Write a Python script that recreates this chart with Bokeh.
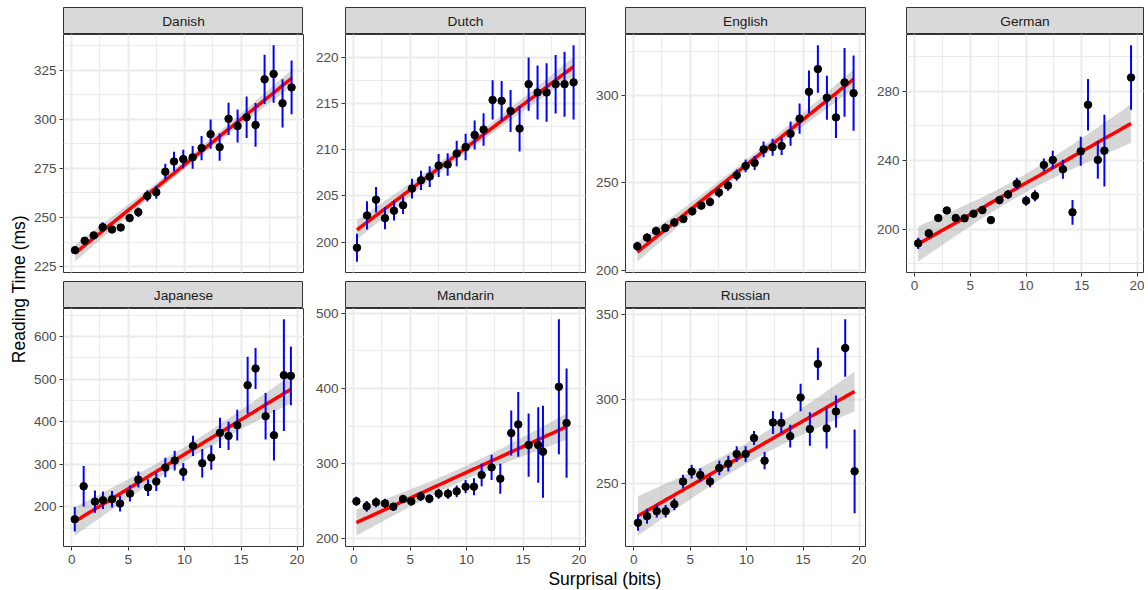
import numpy as np
from bokeh.plotting import figure
from bokeh.models import Range1d, LinearAxis, Grid, SingleIntervalTicker
from bokeh.layouts import row, column
from bokeh.core.properties import value
from bokeh.embed import file_html
from bokeh.resources import INLINE

FONT = "Liberation Sans"

# ---------------- data ----------------
danish_x = [0.29, 1.15, 1.95, 2.74, 3.57, 4.34, 5.13, 5.90, 6.70, 7.49, 8.29, 9.06, 9.88,
            10.71, 11.50, 12.30, 13.10, 13.89, 14.69, 15.49, 16.28, 17.08, 17.88, 18.67, 19.47]
danish_rt = [233.4, 238.2, 240.9, 245.1, 243.9, 244.9, 249.7, 252.7, 261.0, 262.8, 273.3, 278.5, 279.7,
             280.6, 285.3, 292.4, 285.8, 300.2, 296.5, 301.0, 297.1, 320.3, 323.0, 308.1, 316.2]
danish_ci = [1.4, 1.7, 1.5, 2.5, 1.5, 1.0, 1.7, 2.4, 2.9, 3.2, 4.0, 5.0, 4.8,
             5.8, 6.2, 7.4, 6.9, 8.2, 8.4, 10.6, 11.1, 12.5, 14.6, 12.3, 13.7]

dutch_x = [0.29, 1.18, 1.98, 2.77, 3.57, 4.37, 5.16, 5.96, 6.73, 7.52, 8.32, 9.12, 9.91,
           10.71, 11.50, 12.30, 13.10, 13.89, 14.69, 15.49, 16.28, 17.08, 17.88, 18.67, 19.47]
dutch_rt = [199.4, 202.9, 204.6, 202.6, 203.4, 204.0, 205.8, 206.7, 207.1, 208.3, 208.4, 209.6, 210.3,
            211.6, 212.2, 215.4, 215.3, 214.2, 212.3, 217.1, 216.2, 216.2, 217.1, 217.1, 217.3]
dutch_ci = [1.51, 1.53, 1.38, 1.19, 1.06, 0.95, 1.08, 1.04, 1.12, 1.24, 1.22, 1.37, 1.44,
            1.56, 1.76, 2.12, 2.16, 2.27, 2.48, 2.88, 2.93, 3.17, 3.17, 3.51, 4.01]

english_x = [0.32, 1.18, 1.98, 2.80, 3.60, 4.40, 5.19, 5.99, 6.76, 7.55, 8.35, 9.12, 9.91,
             10.71, 11.50, 12.30, 13.10, 13.89, 14.69, 15.52, 16.31, 17.11, 17.91, 18.67, 19.47]
english_rt = [214.0, 218.9, 222.7, 224.4, 227.5, 229.5, 233.9, 237.1, 239.2, 244.5, 248.5, 254.4, 259.7,
              261.4, 269.1, 270.3, 271.0, 278.0, 286.6, 301.9, 314.8, 298.5, 287.3, 307.2, 301.1]
english_ci = [2.5, 2.4, 2.4, 2.5, 2.4, 2.2, 2.4, 2.4, 2.5, 2.8, 3.0, 3.2, 3.6,
              4.0, 4.5, 4.8, 5.1, 6.9, 8.6, 12.1, 13.5, 12.5, 11.7, 19.6, 21.4]

german_x = [0.32, 1.27, 2.12, 2.89, 3.69, 4.48, 5.28, 6.08, 6.84, 7.61, 8.38, 9.17,
            10.00, 10.80, 11.59, 12.39, 13.30, 14.16, 14.90, 15.55, 16.43, 17.02, 19.41]
german_rt = [191.7, 197.5, 206.4, 210.8, 206.4, 206.2, 208.9, 211.0, 205.2, 216.8, 220.1, 226.4,
             216.4, 219.3, 237.2, 240.1, 234.7, 209.7, 245.1, 272.1, 240.1, 245.5, 287.9]
german_ci = [3.3, 2.6, 2.0, 1.9, 1.5, 1.5, 1.5, 1.8, 1.5, 2.3, 2.6, 3.3,
             2.9, 3.2, 3.7, 5.3, 5.5, 7.2, 8.4, 14.9, 10.9, 20.8, 18.7]

japanese_x = [0.27, 1.06, 2.06, 2.77, 3.57, 4.28, 5.16, 5.90, 6.76, 7.49, 8.29, 9.12, 9.88,
              10.74, 11.56, 12.36, 13.13, 13.89, 14.66, 15.58, 16.28, 17.17, 17.91, 18.79, 19.41]
japanese_rt = [171.0, 248.5, 212.5, 215.7, 218.0, 207.8, 231.3, 264.2, 245.4, 259.5, 292.4, 308.8, 282.2,
               343.2, 302.5, 315.9, 373.8, 366.7, 391.8, 485.7, 524.9, 412.9, 368.3, 509.2, 507.6]
japanese_ci = [28.6, 47.4, 26.2, 20.4, 19.6, 18.4, 18.8, 18.8, 19.6, 21.9, 22.7, 23.1, 20.7,
               23.9, 33.7, 28.6, 35.6, 33.3, 36.0, 66.9, 48.1, 54.4, 59.1, 131.1, 68.9]

mandarin_x = [0.24, 1.15, 1.98, 2.77, 3.51, 4.37, 5.10, 5.93, 6.70, 7.52, 8.35, 9.12,
              9.91, 10.65, 11.33, 12.21, 12.98, 13.95, 14.57, 15.49, 16.34, 16.76, 18.17, 18.85]
mandarin_rt = [250.0, 243.4, 248.7, 247.3, 242.9, 253.1, 250.0, 256.6, 253.5, 260.2, 260.2, 263.3,
               269.5, 269.5, 285.0, 295.1, 280.1, 340.7, 352.2, 324.8, 324.8, 315.9, 402.2, 354.0]
mandarin_ci = [6.0, 7.1, 6.4, 6.2, 5.1, 5.3, 5.8, 6.2, 6.0, 6.6, 6.6, 7.7,
               8.8, 11.3, 15.0, 16.8, 19.9, 29.9, 42.9, 42.0, 50.2, 61.1, 89.6, 72.6]

russian_x = [0.38, 1.18, 2.04, 2.83, 3.60, 4.37, 5.13, 5.90, 6.76, 7.58, 8.38, 9.12, 9.91,
             10.65, 11.59, 12.33, 13.07, 13.86, 14.78, 15.60, 16.31, 17.08, 17.91, 18.73, 19.56]
russian_rt = [226.8, 230.7, 233.7, 233.7, 237.8, 251.2, 257.1, 255.1, 251.2, 259.3, 261.8, 267.5, 267.5,
              277.0, 263.6, 286.2, 286.0, 278.1, 301.0, 282.3, 320.9, 282.7, 292.7, 330.3, 257.3]
russian_ci = [4.7, 4.4, 3.8, 3.7, 3.6, 4.0, 4.1, 4.0, 3.4, 4.3, 4.7, 4.7, 4.7,
              4.1, 5.1, 6.8, 6.1, 6.7, 8.2, 9.9, 9.5, 11.9, 9.5, 17.0, 24.8]

languages = ["Danish", "Dutch", "English", "German", "Japanese", "Mandarin", "Russian"]
y_tick_steps = [25, 5, 50, 40, 100, 100, 50]
x_tick_step = 5
x_label = "Surprisal (bits)"
y_label = "Reading Time (ms)"

series = {
    "Danish": (danish_x, danish_rt, danish_ci),
    "Dutch": (dutch_x, dutch_rt, dutch_ci),
    "English": (english_x, english_rt, english_ci),
    "German": (german_x, german_rt, german_ci),
    "Japanese": (japanese_x, japanese_rt, japanese_ci),
    "Mandarin": (mandarin_x, mandarin_rt, mandarin_ci),
    "Russian": (russian_x, russian_rt, russian_ci),
}

# ---------------- helpers ----------------
def t975(df):
    z = 1.959964
    return (z + (z**3 + z) / (4 * df) + (5 * z**5 + 16 * z**3 + 3 * z) / (96 * df**2)
            + (3 * z**7 + 19 * z**5 + 17 * z**3 - 15 * z) / (384 * df**3))


def lm_fit(x, y):
    x = np.asarray(x, float)
    y = np.asarray(y, float)
    n = len(x)
    b, a = np.polyfit(x, y, 1)
    xs = np.linspace(x.min(), x.max(), 80)
    yh = a + b * xs
    s = np.sqrt(np.sum((y - (a + b * x)) ** 2) / (n - 2))
    sxx = np.sum((x - x.mean()) ** 2)
    se = s * np.sqrt(1.0 / n + (xs - x.mean()) ** 2 / sxx)
    t = t975(n - 2)
    return xs, yh, yh - t * se, yh + t * se


all_x = np.concatenate([np.asarray(series[k][0]) for k in languages])
xpad = 0.05 * (all_x.max() - all_x.min())
X0, X1 = all_x.min() - xpad, all_x.max() + xpad

GRID = "#EBEBEB"
BORDER = "#333333"
STRIP_H = 27
FRAME_H = 238
OVER = 10  # panel canvas overlaps the strip so top tick labels are never clipped


def style_axis(ax):
    ax.axis_line_color = None
    ax.major_tick_line_color = BORDER
    ax.major_tick_line_width = 1
    ax.major_tick_out = 4
    ax.major_tick_in = 0
    ax.minor_tick_line_color = None
    ax.major_label_text_font = FONT
    ax.major_label_text_font_size = "13.5px"
    ax.major_label_text_color = "#4D4D4D"
    ax.major_label_standoff = 3


def make_strip(name, mbl, fw, top):
    s = figure(frame_width=fw, frame_height=STRIP_H, min_border_left=mbl, min_border_right=1,
               min_border_top=top, min_border_bottom=0, x_range=Range1d(0, 1), y_range=Range1d(0, 1),
               x_axis_location=None, y_axis_location=None, toolbar_location=None,
               output_backend="svg", background_fill_color="#D9D9D9", border_fill_color=None,
               outline_line_color=BORDER, outline_line_width=1)
    s.center = []
    s.text(x=[0.5], y=[0.5], text=[name], text_align="center", text_baseline="middle",
           text_font=value(FONT), text_font_size="13.7px", text_color="#1A1A1A")
    return s


def make_panel(name, step, mbl, fw, show_x, mbb):
    xs, ys, ci = (np.asarray(v, float) for v in series[name])
    fx, fy, flo, fhi = lm_fit(xs, ys)
    lo = min((ys - ci).min(), flo.min())
    hi = max((ys + ci).max(), fhi.max())
    pad = 0.05 * (hi - lo)
    p = figure(frame_width=fw, frame_height=FRAME_H, min_border_left=mbl, min_border_right=1,
               min_border_top=OVER, min_border_bottom=mbb, x_range=Range1d(X0, X1),
               y_range=Range1d(lo - pad, hi + pad), x_axis_location=None, y_axis_location=None,
               toolbar_location=None, output_backend="svg", background_fill_color="white",
               border_fill_color=None, outline_line_color=BORDER, outline_line_width=1,
               margin=(-OVER, 0, 0, 0))
    p.center = []
    xt = SingleIntervalTicker(interval=x_tick_step, num_minor_ticks=2)
    yt = SingleIntervalTicker(interval=step, num_minor_ticks=2)
    for dim, tk in ((0, xt), (1, yt)):
        p.add_layout(Grid(dimension=dim, ticker=tk, grid_line_color=GRID, grid_line_width=2,
                          minor_grid_line_color=GRID, minor_grid_line_width=1))
    ya = LinearAxis(ticker=yt)
    style_axis(ya)
    p.add_layout(ya, "left")
    if show_x:
        xa = LinearAxis(ticker=xt)
        style_axis(xa)
        xa.major_label_standoff = 4
        p.add_layout(xa, "below")
    p.varea(x=fx, y1=flo, y2=fhi, fill_color="#999999", fill_alpha=0.4)
    p.line(fx, fy, line_color="#FF0000", line_width=3.5)
    p.segment(x0=xs, y0=ys - ci, x1=xs, y1=ys + ci, line_color="#0000FF", line_width=2)
    p.scatter(xs, ys, size=7.5, color="black")
    return p


# column geometry: (min_border_left, frame_width)
cols = [(32, 240), (41, 240), (39, 240), (40, 237)]

facets = {}
for i, name in enumerate(languages):
    r, c = divmod(i, 4)
    mbl, fw = cols[c]
    show_x = (r == 1) or (name == "German")
    mbb = 22 if show_x else 9
    top = 7 if r == 0 else 0
    facets[name] = column(make_strip(name, mbl, fw, top),
                          make_panel(name, y_tick_steps[i], mbl, fw, show_x, mbb))

left_block = column(row(facets["Danish"], facets["Dutch"], facets["English"]),
                    row(facets["Japanese"], facets["Mandarin"], facets["Russian"]))
grid_area = row(left_block, facets["German"])

total_w = sum(m + f + 1 for m, f in cols)
xl = figure(width=total_w, height=21, min_border=0, x_range=Range1d(0, 1), y_range=Range1d(0, 1),
            x_axis_location=None, y_axis_location=None, toolbar_location=None,
            output_backend="svg", outline_line_color=None)
xl.center = []
xl.text(x=[0.516], y=[0.5], text=[x_label], text_align="center", text_baseline="middle",
        text_font=value(FONT), text_font_size="17.5px", text_color="black")

yl = figure(width=30, height=589, min_border=0, x_range=Range1d(0, 1), y_range=Range1d(0, 1),
            x_axis_location=None, y_axis_location=None, toolbar_location=None,
            output_backend="svg", outline_line_color=None)
yl.center = []
yl.text(x=[0.61], y=[0.51], text=[y_label], angle=np.pi / 2, text_align="center",
        text_baseline="middle", text_font=value(FONT), text_font_size="17.5px", text_color="black")

p = row(yl, column(grid_area, xl))

open("out.html", "w").write(file_html(p, INLINE))
